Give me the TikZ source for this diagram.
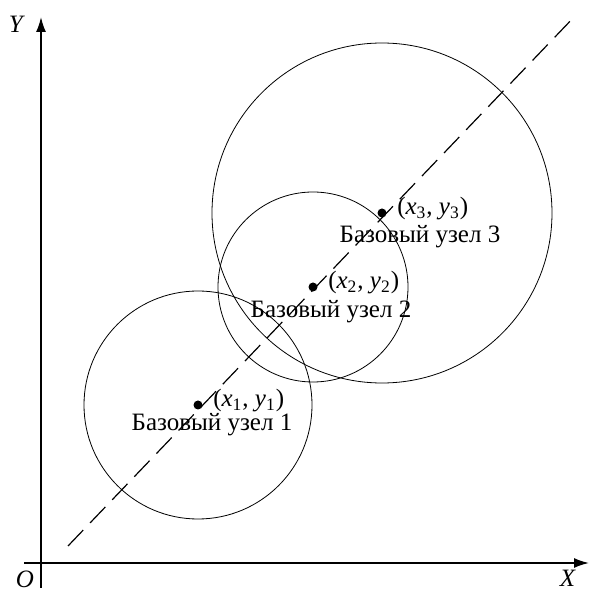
\documentclass[tikz,border=0pt]{standalone}
\usepackage{fontspec}
\setmainfont{Liberation Serif}
\usetikzlibrary{arrows.meta,positioning}
\tikzset{
 axis/.style={thick,-{Latex[length=7.5pt,width=5pt]}},
 base/.style={circle,fill,inner sep=0pt,minimum size=4.5pt},
 coord/.style={inner sep=1pt,anchor=west},
}
\newcommand{\xy}[1]{(\textit{x}\textsubscript{#1}, \textit{y}\textsubscript{#1})}
\begin{document}
\begin{tikzpicture}[x=0.5pt,y=0.5pt,font=\fontsize{12.5}{14}\selectfont]
 \useasboundingbox (0,0) rectangle (589,590);
 % axes
 \coordinate (O) at (41,27);
 \draw[axis] (24,27)--(589,27);
 \draw[axis] (41,2)--(41,573);
 \node[inner sep=0pt] (xl) at (568,12) {\textit{X}};
 \node (yl) at (17,566) {\textit{Y}};
 \node (ol) at (25,11) {\textit{O}};
 % line through the base stations
 \draw[semithick,dash pattern=on 11pt off 5pt] (68,44)--(576,575);
 % base stations
 \node[base] (b1) at (198,185) {};
 \node[base] (b2) at (313,303) {};
 \node[base] (b3) at (382,377) {};
 \draw (b1) circle (114);
 \draw (b2) circle (95);
 \draw (b3) circle (170);
 \node[coord,right=4pt of b1,yshift=2pt] (c1) {\xy1};
 \node[coord,right=4pt of b2,yshift=2pt] (c2) {\xy2};
 \node[coord,right=4pt of b3,yshift=2pt] (c3) {\xy3};
 \node (l1) at (212,165) {Базовый узел 1};
 \node (l2) at (331,278) {Базовый узел 2};
 \node (l3) at (420,353) {Базовый узел 3};
\end{tikzpicture}
\end{document}
